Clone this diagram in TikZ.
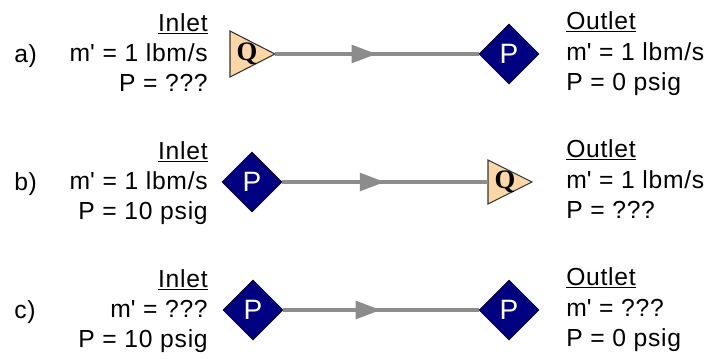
\documentclass[tikz,border=0pt]{standalone}
\usepackage{fontspec}
\setmainfont{Liberation Sans}[LetterSpace=3]
\newfontfamily\qfont{Liberation Serif}
\newfontfamily\pfont{Liberation Sans}
\usetikzlibrary{shapes.geometric,arrows.meta,decorations.markings}
\definecolor{qfill}{RGB}{250,215,165}
\definecolor{pfill}{RGB}{0,0,128}
\definecolor{pipe}{RGB}{140,140,140}
\newcommand{\ap}{\textquotesingle}
\tikzset{
  txt/.style={inner sep=0pt, font=\fontsize{18.5}{20}\selectfont},
  lbl/.style={txt, anchor=base west},
  rgt/.style={txt, anchor=base east},
  pnode/.style={diamond, aspect=1, inner sep=0pt, minimum width=45pt, minimum height=45pt,
    fill=pfill, draw=black, line width=0.4pt, text=white, font=\pfont\fontsize{21}{21}\selectfont},
  qtri/.style={fill=qfill, draw=black!80, line width=0.8pt},
  qtxt/.style={inner sep=0pt, font=\qfont\bfseries\fontsize{20}{20}\selectfont},
  pipeline/.style={draw=pipe, line width=3.5pt,
    postaction={decorate, decoration={markings, mark=at position 0.5 with {\arrow{Triangle[length=19pt,width=13pt]}}}}},
}
\begin{document}
\begin{tikzpicture}[x=0.75pt,y=-0.75pt]
\useasboundingbox (0,0) rectangle (709,358);
% ---------- row a ----------
\node[lbl] (la) at (14,62) {a)};
\node[rgt] (ainl) at (208,31) {\underline{Inlet}};
\node[rgt] (aim) at (208,61) {m\ap{} = 1 lbm/s};
\node[rgt] (aip) at (208,91) {P = ???};
\path[qtri] (230,31) -- (275,54) -- (230,77) -- cycle;
\coordinate (aq) at (275,54);
\node[qtxt] (aqt) at (247,54) {Q};
\node[pnode] (ap) at (509,54) {P};
\draw[pipeline] (aq) -- (ap);
\node[lbl] (aout) at (566,29) {\underline{Outlet}};
\node[lbl] (aom) at (566,60) {m\ap{} = 1 lbm/s};
\node[lbl] (aop) at (566,90) {P = 0 psig};
% ---------- row b ----------
\node[lbl] (lb) at (14,190) {b)};
\node[rgt] (binl) at (208,159) {\underline{Inlet}};
\node[rgt] (bim) at (208,189) {m\ap{} = 1 lbm/s};
\node[rgt] (bip) at (208,219) {P = 10 psig};
\node[pnode] (bp) at (252,182) {P};
\path[qtri] (488,160) -- (532,182) -- (488,204) -- cycle;
\coordinate (bq) at (488,182);
\node[qtxt] (bqt) at (505,182) {Q};
\draw[pipeline] (bp) -- (bq);
\node[lbl] (bout) at (566,157) {\underline{Outlet}};
\node[lbl] (bom) at (566,188) {m\ap{} = 1 lbm/s};
\node[lbl] (bop) at (566,218) {P = ???};
% ---------- row c ----------
\node[lbl] (lc) at (14,318) {c)};
\node[rgt] (cinl) at (208,287) {\underline{Inlet}};
\node[rgt] (cim) at (208,317) {m\ap{} = ???};
\node[rgt] (cip) at (208,347) {P = 10 psig};
\node[pnode] (cp1) at (253,310) {P};
\node[pnode] (cp2) at (509,310) {P};
\draw[pipeline] (cp1) -- (cp2);
\node[lbl] (cout) at (566,285) {\underline{Outlet}};
\node[lbl] (com) at (566,316) {m\ap{} = ???};
\node[lbl] (cop) at (566,346) {P = 0 psig};
\end{tikzpicture}
\end{document}
